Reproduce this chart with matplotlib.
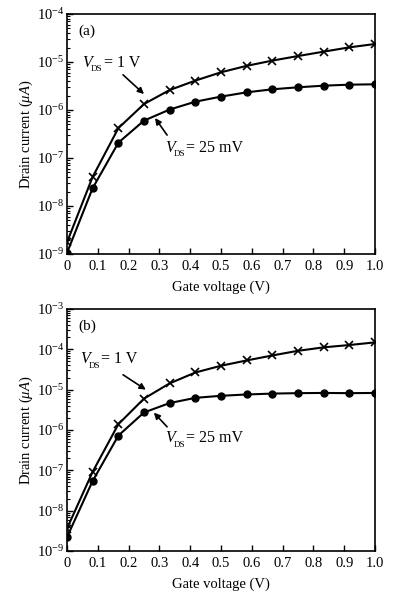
import matplotlib
matplotlib.use("Agg")
from matplotlib import pyplot as plt
from matplotlib.ticker import LogLocator, FixedLocator, FuncFormatter, NullFormatter

# fonts: Times-like serif everywhere, mathtext too
plt.rcParams['font.family'] = ['Liberation Serif', 'DejaVu Serif']
plt.rcParams['mathtext.fontset'] = 'custom'
plt.rcParams['mathtext.rm'] = 'Liberation Serif'
plt.rcParams['mathtext.it'] = 'Liberation Serif:italic'
plt.rcParams['mathtext.default'] = 'regular'

# gate voltage (V), same for every curve
vg = [0.0, 0.083, 0.167, 0.25, 0.333, 0.417, 0.5, 0.583, 0.667, 0.75, 0.833, 0.917, 1.0]

# panel (a) drain current (uA)
a_vds_1v = [1.75e-9, 4.0e-8, 4.2e-7, 1.33e-6, 2.6e-6, 4.1e-6, 6.1e-6, 8.3e-6,
            1.07e-5, 1.33e-5, 1.64e-5, 2.02e-5, 2.37e-5]
a_vds_25mv = [1.05e-9, 2.33e-8, 2.09e-7, 6.0e-7, 1.02e-6, 1.49e-6, 1.9e-6, 2.33e-6,
              2.7e-6, 2.97e-6, 3.21e-6, 3.37e-6, 3.43e-6]

# panel (b) drain current (uA)
b_vds_1v = [3.6e-9, 9.1e-8, 1.4e-6, 6.0e-6, 1.43e-5, 2.67e-5, 3.92e-5, 5.3e-5,
            7.06e-5, 9.2e-5, 1.12e-4, 1.28e-4, 1.49e-4]
b_vds_25mv = [2.2e-9, 5.4e-8, 7.3e-7, 2.72e-6, 4.65e-6, 6.28e-6, 7.05e-6, 7.6e-6,
              8.0e-6, 8.2e-6, 8.3e-6, 8.2e-6, 8.3e-6]

xticks = [0, 0.1, 0.2, 0.3, 0.4, 0.5, 0.6, 0.7, 0.8, 0.9, 1.0]

fig = plt.figure(figsize=(3.98, 5.93), dpi=100)
ax_a = fig.add_axes([0.1683, 0.5717, 0.7739, 0.4047])
ax_b = fig.add_axes([0.1683, 0.0708, 0.7739, 0.4081])


def style_axes(ax, ymin, ymax, label):
    ax.set_yscale('log')
    ax.set_xlim(0, 1.0)
    ax.set_ylim(ymin, ymax)
    ax.xaxis.set_major_locator(FixedLocator(xticks))
    ax.xaxis.set_major_formatter(FuncFormatter(lambda v, p: '0' if v == 0 else '%.1f' % v))
    ax.yaxis.set_major_locator(LogLocator(base=10))
    ax.yaxis.set_minor_locator(LogLocator(base=10, subs=range(2, 10), numticks=20))
    ax.yaxis.set_minor_formatter(NullFormatter())
    ax.tick_params(which='major', direction='in', length=4, width=1, labelsize=10.5,
                   top=False, right=False)
    ax.tick_params(axis='x', pad=4.5)
    ax.tick_params(axis='y', pad=2)
    ax.tick_params(which='minor', direction='in', length=2, width=0.8, top=False, right=False)
    for s in ax.spines.values():
        s.set_linewidth(1.2)
    ax.set_xlabel('Gate voltage (V)', fontsize=10.5, labelpad=5)
    ax.set_ylabel('Drain current ($\\mathit{\\mu A}$)', fontsize=10.5)
    ax.yaxis.set_label_coords(-0.105, 0.5)
    ax.text(0.036, 0.93, label, transform=ax.transAxes, fontsize=11, va='center')


def vds_label(ax, x, y, rest):
    # V, small subscript DS, then the value, all on one baseline
    ax.annotate('V', xy=(x, y), xytext=(0, 0), textcoords='offset points',
                fontsize=11.5, style='italic', va='baseline', ha='left')
    ax.annotate('DS', xy=(x, y), xytext=(6, -3.2), textcoords='offset points',
                fontsize=6.5, va='baseline', ha='left')
    ax.annotate(rest, xy=(x, y), xytext=(15.5, 0), textcoords='offset points',
                fontsize=11.5, va='baseline', ha='left')


style_axes(ax_a, 1e-9, 1e-4, '(a)')
style_axes(ax_b, 1e-9, 1e-3, '(b)')

# top panel curves
ax_a.plot(vg, a_vds_1v, color='black', lw=1.5, marker='x', ms=5.5, mew=1.2)
ax_a.plot(vg, a_vds_25mv, color='black', lw=1.5, marker='o', ms=5)
# bottom panel curves
ax_b.plot(vg, b_vds_1v, color='black', lw=1.5, marker='x', ms=5.5, mew=1.2)
ax_b.plot(vg, b_vds_25mv, color='black', lw=1.5, marker='o', ms=5)

arrow = dict(arrowstyle='-|>', color='black', lw=1.2, mutation_scale=9, shrinkA=0, shrinkB=0)

vds_label(ax_a, 0.049, 7.9e-6, '= 1 V')
ax_a.annotate('', xy=(0.25, 2.15e-6), xytext=(0.182, 5.4e-6), arrowprops=arrow)
vds_label(ax_a, 0.318, 1.36e-7, '= 25 mV')
ax_a.annotate('', xy=(0.286, 6.8e-7), xytext=(0.325, 3.0e-7), arrowprops=arrow)

vds_label(ax_b, 0.042, 4.5e-5, '= 1 V')
ax_b.annotate('', xy=(0.256, 1.0e-5), xytext=(0.182, 2.34e-5), arrowprops=arrow)
vds_label(ax_b, 0.318, 4.96e-7, '= 25 mV')
ax_b.annotate('', xy=(0.282, 2.7e-6), xytext=(0.325, 1.2e-6), arrowprops=arrow)

fig.savefig('out.png', dpi=100)
